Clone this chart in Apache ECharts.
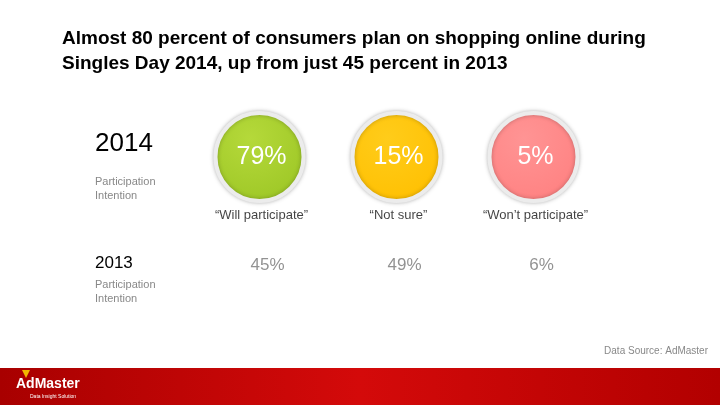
<!DOCTYPE html>
<html>
<head>
<meta charset="utf-8">
<script src="https://cdn.jsdelivr.net/npm/echarts@6/dist/echarts.min.js"></script>
<style>body{margin:0;background:#fff}#main{width:720px;height:405px}</style>
</head>
<body>
<div id="main"></div>
<script>
var categories = ['\u201cWill participate\u201d', '\u201cNot sure\u201d', '\u201cWon\u2019t participate\u201d'];
var values2014 = [79, 15, 5];
var values2013 = [45, 49, 6];
var colors = [['#b5d93a', '#9cc625'], ['#ffcc1a', '#ffbf00'], ['#ff9494', '#ff8080']];

var chart = echarts.init(document.getElementById('main'));
var font = 'Arial, "Liberation Sans", sans-serif';

function grad(c) {
    return new echarts.graphic.RadialGradient(0.4, 0.3, 0.8, [{offset: 0, color: c[0]}, {offset: 1, color: c[1]}]);
}

chart.setOption({
    animation: false,
    textStyle: {fontFamily: font},
    grid: {left: 191, width: 411, top: 100, height: 200},
    xAxis: {type: 'category', data: categories, show: false},
    yAxis: {type: 'value', min: 0, max: 200, inverse: true, show: false},
    series: [{
        type: 'scatter',
        symbolSize: 88,
        data: values2014.map(function (v, i) {
            return {value: [i, 57], name: v + '%', itemStyle: {color: grad(colors[i])}};
        }),
        itemStyle: {opacity: 1, borderColor: '#ececec', borderWidth: 4, shadowColor: 'rgba(0,0,0,0.25)', shadowBlur: 4},
        label: {show: true, formatter: '{b}', color: '#fff', fontSize: 25, offset: [2, 0]}
    }, {
        type: 'scatter',
        symbolSize: 0,
        data: categories.map(function (c, i) { return {value: [i, 115], name: c}; }),
        label: {show: true, formatter: '{b}', color: '#111', fontSize: 13, offset: [2, 0]}
    }, {
        type: 'scatter',
        symbolSize: 0,
        data: values2013.map(function (v, i) { return {value: [i, 165], name: v + '%'}; }),
        label: {show: true, formatter: '{b}', color: '#777', fontSize: 17, offset: [8, 0]}
    }],
    graphic: [
        {type: 'text', left: 62, top: 26, style: {text: 'Almost 80 percent of consumers plan on shopping online during\nSingles Day 2014, up from just 45 percent in 2013', font: 'bold 19px ' + font, fill: '#000', lineHeight: 25}},
        {type: 'text', left: 95, top: 131, style: {text: '2014', font: '26px ' + font, fill: '#000'}},
        {type: 'text', left: 95, top: 175, style: {text: 'Participation\nIntention', font: '11px ' + font, fill: '#888', lineHeight: 14}},
        {type: 'text', left: 95, top: 255, style: {text: '2013', font: '17px ' + font, fill: '#000'}},
        {type: 'text', left: 95, top: 278, style: {text: 'Participation\nIntention', font: '11px ' + font, fill: '#888', lineHeight: 14}},
        {type: 'text', right: 12, top: 346, style: {text: 'Data Source: AdMaster', font: '10px ' + font, fill: '#888'}},
        {type: 'rect', left: 0, top: 368, shape: {width: 720, height: 37},
            style: {fill: new echarts.graphic.LinearGradient(0, 0, 1, 0, [{offset: 0, color: '#a80000'}, {offset: 0.5, color: '#d40a0a'}, {offset: 1, color: '#b20000'}])}},
        {type: 'polygon', shape: {points: [[22, 370], [30, 370], [26, 378]]}, style: {fill: '#f2b800'}},
        {type: 'text', left: 16, top: 377, style: {text: 'AdMaster', font: 'bold 14px ' + font, fill: '#fff'}},
        {type: 'text', left: 30, top: 394, style: {text: 'Data Insight Solution', font: '5px ' + font, fill: '#fff'}}
    ]
});
</script>
</body>
</html>
